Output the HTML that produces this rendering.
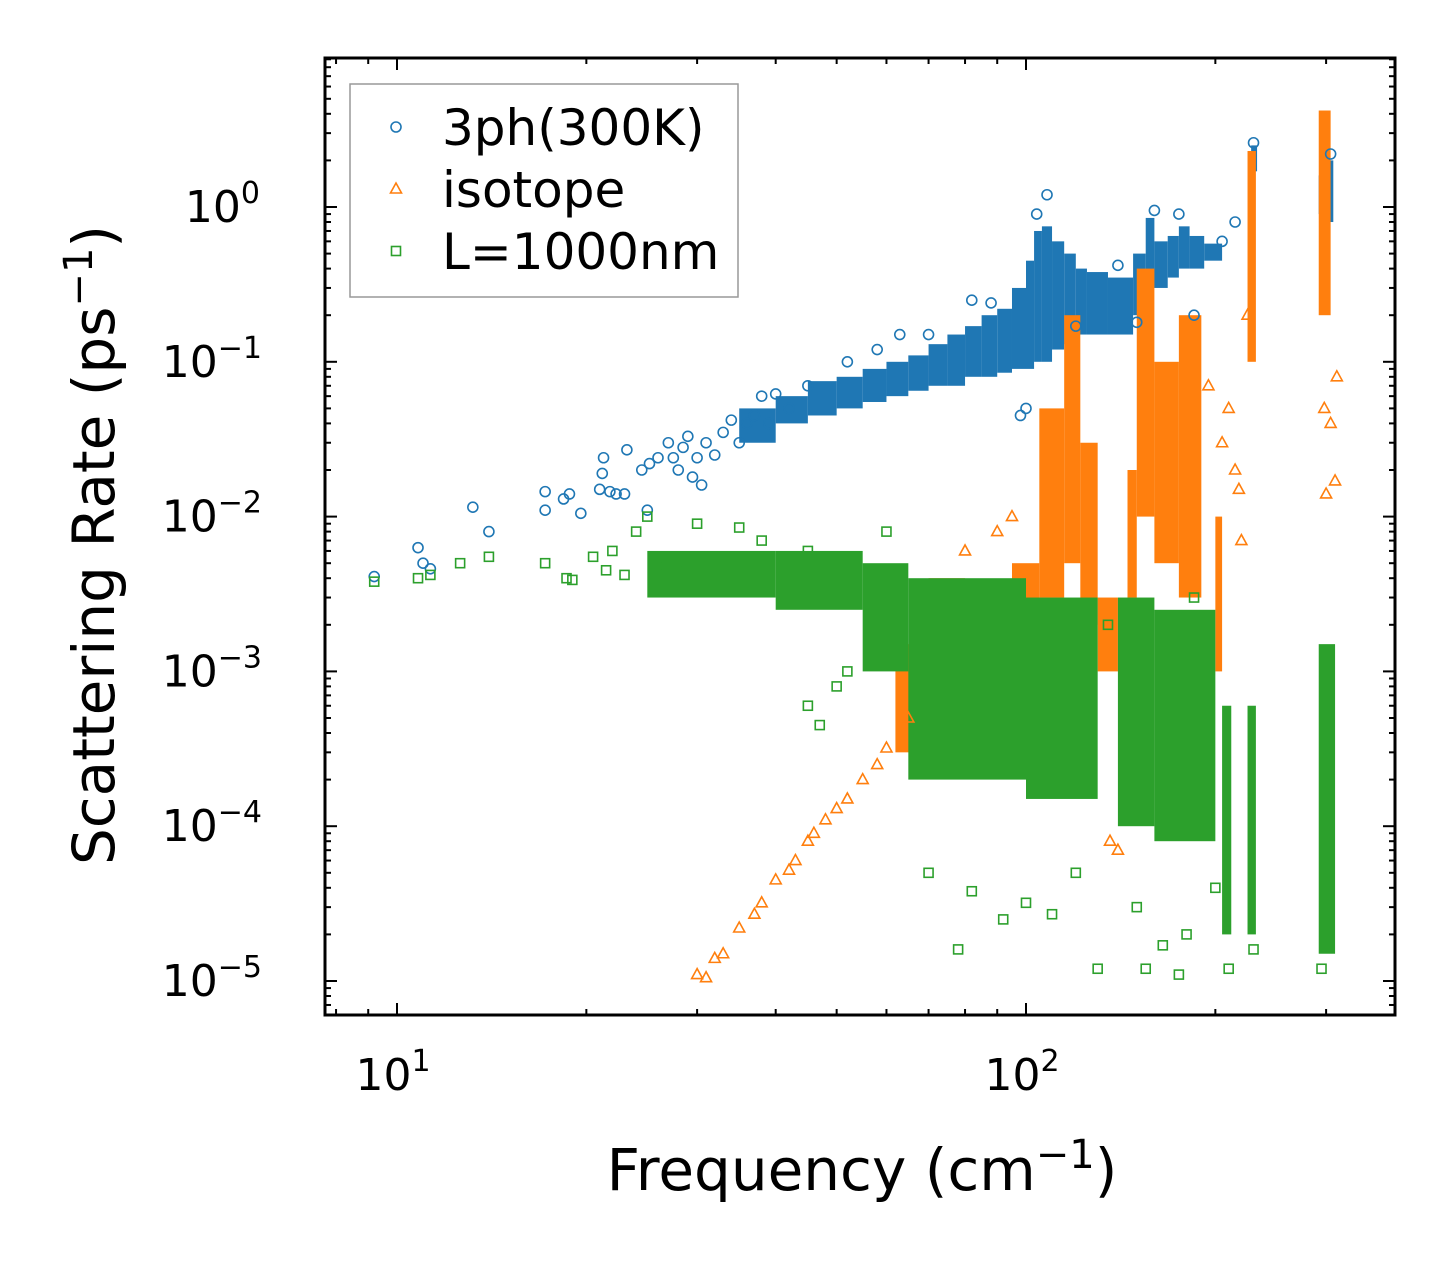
<!DOCTYPE html>
<html><head><meta charset="utf-8"><style>
body{margin:0;background:#fff}
svg text{font-family:"DejaVu Sans","Liberation Sans",sans-serif;fill:#000}
</style></head><body>
<svg id="chart" width="1455" height="1265" viewBox="0 0 1455 1265" xmlns="http://www.w3.org/2000/svg">
<g id="bands"></g><g id="marks"></g><g id="axes"></g>
<text x="862" y="1190" text-anchor="middle" font-size="58">Frequency (cm<tspan dy="-22" font-size="40">−1</tspan><tspan dy="22">)</tspan></text>
<text transform="translate(114,545) rotate(-90)" text-anchor="middle" font-size="58">Scattering Rate (ps<tspan dy="-22" font-size="40">−1</tspan><tspan dy="22">)</tspan></text>
<g>
<rect x="350" y="84" width="388" height="213" fill="#fff" fill-opacity="0.8" stroke="#999" stroke-width="1.5"/>
<circle cx="396" cy="127" r="5" fill="none" stroke="#1f77b4" stroke-width="1.6"/>
<text x="442" y="145" font-size="50">3ph(300K)</text>
<polygon points="396,183 390.5,193 401.5,193" fill="none" stroke="#ff7f0e" stroke-width="1.6"/>
<text x="442" y="207" font-size="50">isotope</text>
<rect x="391.5" y="246.5" width="9" height="9" fill="none" stroke="#2ca02c" stroke-width="1.6"/>
<text x="442" y="269" font-size="50">L=1000nm</text>
</g>
</svg>
<script>
// ---- data ----
const blueBands=[[35,40,0.03,0.05],[40,45,0.04,0.06],[45,50,0.045,0.075],[50,55,0.05,0.08],[55,60,0.055,0.09],[60,65,0.06,0.1],[65,70,0.065,0.11],[70,75,0.07,0.13],[75,80,0.07,0.15],[80,85,0.08,0.17],[85,90,0.08,0.2],[90,95,0.085,0.22],[95,100,0.09,0.3],[100,103,0.09,0.45],[103,106,0.1,0.7],[106,110,0.1,0.75],[110,115,0.12,0.6],[115,120,0.13,0.5],[120,125,0.15,0.4],[125,135,0.15,0.38],[135,148,0.15,0.35],[148,155,0.2,0.5],[155,160,0.3,0.85],[160,168,0.3,0.6],[168,175,0.35,0.65],[175,182,0.4,0.75],[182,192,0.4,0.65],[192,205,0.45,0.58],[228,233,1.7,2.5],[292,297,0.9,1.6],[302,308,0.8,2.0]];
const bluePts=[[9.2,0.0041],[10.8,0.0063],[11,0.005],[11.3,0.0046],[13.2,0.0115],[14,0.008],[17.2,0.0145],[17.2,0.011],[18.4,0.013],[18.8,0.014],[19.6,0.0105],[21,0.015],[21.2,0.019],[21.3,0.024],[21.8,0.0145],[22.3,0.014],[23,0.014],[23.2,0.027],[24.5,0.02],[25,0.011],[25.2,0.022],[26,0.024],[27,0.03],[27.5,0.024],[28,0.02],[28.5,0.028],[29,0.033],[29.5,0.018],[30,0.024],[30.5,0.016],[31,0.03],[32,0.025],[33,0.035],[34,0.042],[35,0.03],[36,0.04],[37,0.045],[38,0.06],[39,0.04],[40,0.062],[42,0.05],[45,0.07],[52,0.1],[58,0.12],[63,0.15],[70,0.15],[82,0.25],[88,0.24],[98,0.045],[100,0.05],[108,1.2],[104,0.9],[120,0.17],[140,0.42],[150,0.18],[160,0.95],[175,0.9],[185,0.2],[205,0.6],[215,0.8],[230,2.6],[305,2.2]];
const orangeBands=[[62,70,3e-4,1.5e-3],[70,80,5e-4,4e-3],[80,95,1e-3,3e-3],[95,105,1e-3,5e-3],[105,115,3e-3,0.05],[115,122,5e-3,0.2],[122,130,2e-3,0.03],[130,140,1e-3,3e-3],[145,150,3e-3,0.02],[150,160,0.01,0.4],[160,175,0.005,0.1],[175,190,0.003,0.2],[200,205,1e-3,0.01],[225,232,0.1,2.3],[292,305,0.2,4.2]];
const orangePts=[[30,1.1e-5],[31,1.05e-5],[32,1.4e-5],[33,1.5e-5],[35,2.2e-5],[37,2.7e-5],[38,3.2e-5],[40,4.5e-5],[42,5.2e-5],[43,6e-5],[45,8e-5],[46,9e-5],[48,1.1e-4],[50,1.3e-4],[52,1.5e-4],[55,2e-4],[58,2.5e-4],[60,3.2e-4],[65,5e-4],[80,6e-3],[90,8e-3],[95,1e-2],[136,8e-5],[140,7e-5],[195,0.07],[205,0.03],[210,0.05],[215,0.02],[218,0.015],[220,0.007],[225,0.2],[300,0.014],[310,0.017],[305,0.04],[298,0.05],[312,0.08]];
const greenBands=[[25,40,0.003,0.006],[40,55,0.0025,0.006],[55,65,0.001,0.005],[65,100,2e-4,4e-3],[100,130,1.5e-4,3e-3],[140,160,1e-4,3e-3],[160,200,8e-5,2.5e-3],[205,212,2e-5,6e-4],[225,232,2e-5,6e-4],[292,310,1.5e-5,1.5e-3]];
const greenPts=[[9.2,0.0038],[10.8,0.004],[11.3,0.0042],[12.6,0.005],[14,0.0055],[17.2,0.005],[18.6,0.004],[19,0.0039],[20.5,0.0055],[21.5,0.0045],[22,0.006],[23,0.0042],[24,0.008],[25,0.01],[26,0.0048],[28,0.005],[30,0.009],[35,0.0085],[38,0.007],[45,0.006],[45,6e-4],[47,4.5e-4],[50,8e-4],[52,0.001],[60,0.008],[70,5e-5],[78,1.6e-5],[82,3.8e-5],[92,2.5e-5],[100,3.2e-5],[110,2.7e-5],[120,5e-5],[130,1.2e-5],[150,3e-5],[155,1.2e-5],[165,1.7e-5],[175,1.1e-5],[180,2e-5],[200,4e-5],[210,1.2e-5],[230,1.6e-5],[295,1.2e-5],[135,0.002],[185,0.003]];
const xTicks=[1,2], yTicks=[0,-1,-2,-3,-4,-5];
// ---- axes ----
const L=325,R=1395,T=58,B=1015;
const x=v=>397+(Math.log10(v)-1)*629;
const y=v=>207-Math.log10(v)*154.8;
const NS="http://www.w3.org/2000/svg";
function mk(tag,attrs,parent){const e=document.createElementNS(NS,tag);for(const k in attrs)e.setAttribute(k,attrs[k]);document.getElementById(parent).appendChild(e);return e;}
const C={b:"#1f77b4",o:"#ff7f0e",g:"#2ca02c"};
function bands(arr,col,name){arr.forEach(d=>{const r=mk('rect',{x:x(d[0]),y:y(d[3]),width:Math.max(4,x(d[1])-x(d[0])),height:y(d[2])-y(d[3]),fill:col},'bands');

});}
bands(blueBands,C.b,'3ph-dense-band');bands(orangeBands,C.o,'isotope-dense-band');bands(greenBands,C.g,'boundary-dense-band');
bluePts.forEach(d=>{const e=mk('circle',{cx:x(d[0]),cy:y(d[1]),r:5,fill:'none',stroke:C.b,'stroke-width':1.6},'marks');

});
orangePts.forEach(d=>{const cx=x(d[0]),cy=y(d[1]);const e=mk('polygon',{points:`${cx},${cy-6} ${cx-5.5},${cy+4} ${cx+5.5},${cy+4}`,fill:'none',stroke:C.o,'stroke-width':1.6},'marks');

});
greenPts.forEach(d=>{const e=mk('rect',{x:x(d[0])-4.5,y:y(d[1])-4.5,width:9,height:9,fill:'none',stroke:C.g,'stroke-width':1.6},'marks');

});
const fr=mk('rect',{x:L,y:T,width:R-L,height:B-T,fill:'none',stroke:'#000','stroke-width':3},'axes');


for(let dec=0;dec<3;dec++)for(let m=1;m<10;m++){const v=Math.pow(10,dec)*m;const px=x(v);if(px<L||px>R)continue;const len=m===1?12:6;
mk('line',{x1:px,y1:B,x2:px,y2:B-len,stroke:'#000','stroke-width':2},'axes');mk('line',{x1:px,y1:T,x2:px,y2:T+len,stroke:'#000','stroke-width':2},'axes');}
for(let dec=-6;dec<1;dec++)for(let m=1;m<10;m++){const v=Math.pow(10,dec)*m;const py=y(v);if(py<T||py>B)continue;const len=m===1?12:6;
mk('line',{x1:L,y1:py,x2:L+len,y2:py,stroke:'#000','stroke-width':2},'axes');mk('line',{x1:R,y1:py,x2:R-len,y2:py,stroke:'#000','stroke-width':2},'axes');}
xTicks.forEach(p=>{const t=mk('text',{x:x(Math.pow(10,p))-4,y:1090,'text-anchor':'middle','font-size':44},'axes');t.innerHTML='10<tspan dy="-19" font-size="30">'+p+'</tspan>';

});
yTicks.forEach(p=>{const t=mk('text',{x:p===0?260:262,y:y(Math.pow(10,p))+15,'text-anchor':'end','font-size':44},'axes');t.innerHTML='10<tspan dy="-19" font-size="30">'+(p<0?'\u2212'+(-p):p)+'</tspan>';

});
</script>
</body></html>
